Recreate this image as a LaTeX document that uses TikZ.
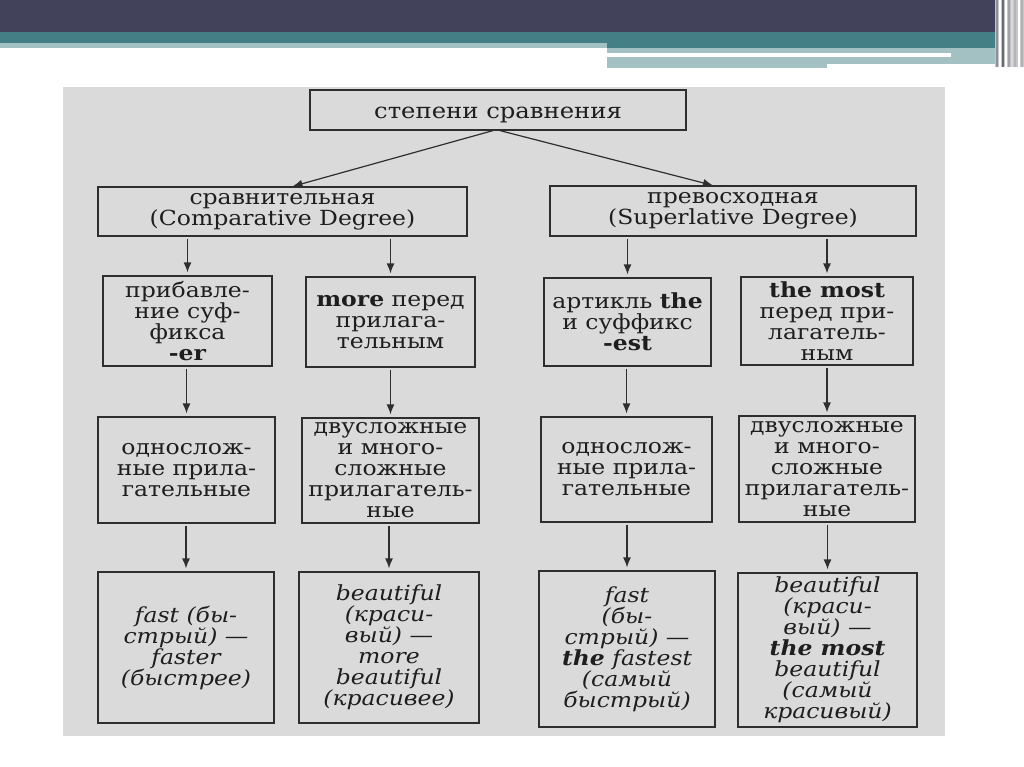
\documentclass[tikz,border=0pt]{standalone}
\usepackage{fontspec}
\setmainfont{DejaVu Serif}[FakeStretch=1.13]
\usetikzlibrary{arrows.meta,calc}
\definecolor{darkbar}{HTML}{42435A}
\definecolor{tealbar}{HTML}{437F84}
\definecolor{lteal}{HTML}{A3C0C3}
\definecolor{bgc}{HTML}{DADADA}
\definecolor{linec}{HTML}{2E2E2E}
\definecolor{txtc}{HTML}{1E1E1E}
\begin{document}
\begin{tikzpicture}[x=1pt,y=-1pt,
  box/.style={draw=linec, line width=1.2pt, fill=bgc, inner sep=0pt, align=center,
    font=\fontsize{20.8}{21}\selectfont, text=txtc},
  itbox/.style={box, font=\fontsize{20.8}{21}\selectfont\itshape},
  arr/.style={draw=linec, line width=1.2pt, -{Latex[length=10pt,width=8pt]}},
  varr/.style={arr, shorten <=2pt, shorten >=3pt}]
% canvas
\useasboundingbox (0,0) rectangle (1024,767);
\fill[white] (0,0) rectangle (1024,767);
% slide decoration
\fill[darkbar] (0,0) rectangle (1000,32);
\fill[tealbar] (0,32) rectangle (1000,43);
\fill[tealbar] (607,43) rectangle (1000,48);
\fill[lteal] (0,43) rectangle (607,48);
\fill[lteal] (607,48) rectangle (1000,64);
\fill[lteal] (607,64) rectangle (827,68);
\fill[white] (607,53) rectangle (951,57);
\fill[gray!45] (995,0) rectangle (1024,67);
\foreach \xx/\cc in {996/darkbar!60, 999/white, 1002/darkbar!80, 1005/white, 1008/darkbar!50, 1011/white!70!gray, 1014/darkbar!40, 1018/white, 1021/gray!60}
  \fill[\cc] (\xx,0) rectangle ++(1.6,67);
% scanned page
\fill[bgc] (63,87) rectangle (945,736);
% nodes
\node[box, minimum width=376, minimum height=40, font=\fontsize{21.5}{21}\selectfont] (top) at (498,110) {\raisebox{-5pt}[\height][\depth]{степени сравнения}};
\node[box, minimum width=369, minimum height=49] (b1) at (282.5,211.5) {сравнительная\\(Comparative Degree)};
\node[box, minimum width=366, minimum height=50] (b2) at (733,211) {превосходная\\(Superlative Degree)};
\node[box, minimum width=169, minimum height=90] (c1) at (187.5,321) {прибавле-\\ние суф-\\фикса\\\textbf{-er}};
\node[box, minimum width=169, minimum height=90] (c2) at (390.5,322) {\textbf{more} перед\\прилага-\\тельным};
\node[box, minimum width=167, minimum height=88] (c3) at (627.5,322) {артикль \textbf{the}\\и суффикс\\\textbf{-est}};
\node[box, minimum width=172, minimum height=88] (c4) at (827,321) {\textbf{the most}\\перед при-\\лагатель-\\ным};
\node[box, minimum width=177, minimum height=106] (d1) at (186.5,470) {однослож-\\ные прила-\\гательные};
\node[box, minimum width=177, minimum height=105] (d2) at (390.5,470.5) {двусложные\\и много-\\сложные\\прилагатель-\\ные};
\node[box, minimum width=171, minimum height=105] (d3) at (626.5,469.5) {однослож-\\ные прила-\\гательные};
\node[box, minimum width=176, minimum height=106] (d4) at (827,469) {двусложные\\и много-\\сложные\\прилагатель-\\ные};
\node[itbox, minimum width=176, minimum height=151] (e1) at (186,647.5) {fast (бы-\\стрый) —\\faster\\(быстрее)};
\node[itbox, minimum width=180, minimum height=151] (e2) at (389,647.5) {beautiful\\(краси-\\вый) —\\more\\beautiful\\(красивее)};
\node[itbox, minimum width=176, minimum height=156] (e3) at (627,649) {fast\\(бы-\\стрый) —\\\textbf{the} fastest\\(самый\\быстрый)};
\node[itbox, minimum width=179, minimum height=154] (e4) at (827.5,650) {beautiful\\(краси-\\вый) —\\\textbf{the most}\\beautiful\\(самый\\красивый)};
% connectors
\draw[arr] ($(top.south)+(-5,0)$) -- ($(b1.north)+(10,0)$);
\draw[arr] ($(top.south)+(2,0)$) -- ($(b2.north)+(-20,0)$);
\foreach \up/\dn in {b1/c1, b1/c2, b2/c3, b2/c4}
  \draw[varr] (\up.south -| \dn.north) -- (\dn.north);
\foreach \up/\dn in {c1/d1, c2/d2, c3/d3, c4/d4, d1/e1, d2/e2, d3/e3, d4/e4}
  \draw[varr] (\up.south -| \dn.north) -- (\dn.north);
\end{tikzpicture}
\end{document}
